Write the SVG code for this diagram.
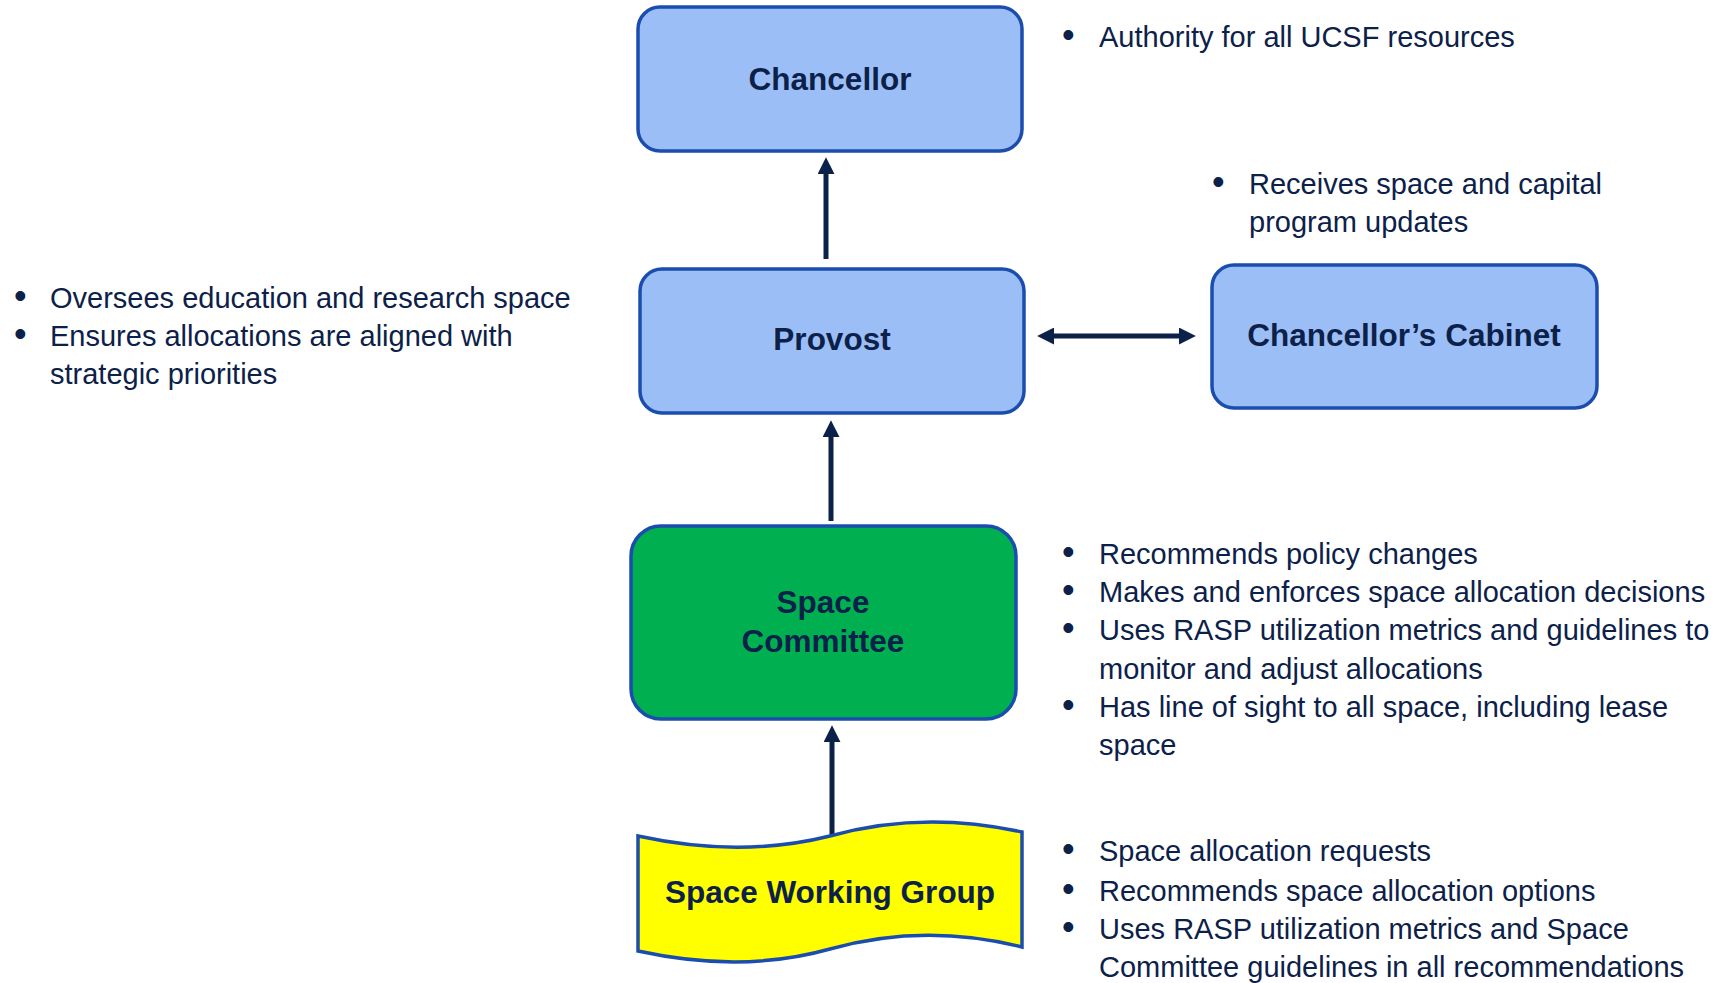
<svg xmlns="http://www.w3.org/2000/svg" width="1716" height="983" viewBox="0 0 1716 983">
<style>
.box{fill:#9CBEF6;stroke:#1A4DAE;stroke-width:3.5}
.green{fill:#00B050;stroke:#1A4DAE;stroke-width:3.5}
.yellow{fill:#FFFF00;stroke:#1A4DAE;stroke-width:3.5}
.lbl{font-family:"Liberation Sans",Arial,sans-serif;font-weight:bold;font-size:31.5px;fill:#0C2149;text-anchor:middle}
.bul{font-family:"Liberation Sans",Arial,sans-serif;font-size:29px;fill:#0C2149}
.dot{font-size:36px}
.conn{stroke:#0C2149;stroke-width:5;fill:none}
</style>
<defs>
<marker id="ah" viewBox="0 0 16 16" markerWidth="17" markerHeight="17" markerUnits="userSpaceOnUse" refX="2" refY="8" orient="auto-start-reverse">
<path d="M0,0 L16,8 L0,16 z" fill="#0C2149"/>
</marker>
</defs>
<rect width="1716" height="983" fill="#ffffff"/>
<g id="connectors">
<line class="conn" x1="826" y1="259" x2="826" y2="172" marker-end="url(#ah)"/>
<line class="conn" x1="831" y1="521" x2="831" y2="435" marker-end="url(#ah)"/>
<line class="conn" x1="832" y1="836" x2="832" y2="740" marker-end="url(#ah)"/>
<line class="conn" x1="1052" y1="336" x2="1181" y2="336" marker-start="url(#ah)" marker-end="url(#ah)"/>
</g>
<g id="chancellor">
<rect class="box" x="638" y="7" width="384" height="144" rx="22"/>
<text class="lbl" x="830" y="90">Chancellor</text>
</g>
<g id="provost">
<rect class="box" x="640" y="269" width="384" height="144" rx="22"/>
<text class="lbl" x="832" y="350">Provost</text>
</g>
<g id="cabinet">
<rect class="box" x="1212" y="265" width="385" height="143" rx="22"/>
<text class="lbl" x="1404" y="346">Chancellor’s Cabinet</text>
</g>
<g id="space-committee">
<rect class="green" x="631" y="526" width="385" height="193" rx="30"/>
<text class="lbl" x="823" y="613">Space</text>
<text class="lbl" x="823" y="652">Committee</text>
</g>
<g id="space-working-group">
<path class="yellow" d="M638,836 C702,850 766,852 830,836 C894,818 958,818 1022,832 L1022,947 C958,931 894,931 830,949 C766,967 702,965 638,951 Z"/>
<text class="lbl" x="830" y="903">Space Working Group</text>
</g>
<g id="notes-chancellor">
<text class="bul" y="47"><tspan class="dot" x="1062">•</tspan><tspan x="1099">Authority for all UCSF resources</tspan></text>
</g>
<g id="notes-cabinet">
<text class="bul" y="194"><tspan class="dot" x="1212">•</tspan><tspan x="1249">Receives space and capital</tspan></text>
<text class="bul" y="232"><tspan x="1249">program updates</tspan></text>
</g>
<g id="notes-provost">
<text class="bul" y="308"><tspan class="dot" x="14">•</tspan><tspan x="50">Oversees education and research space</tspan></text>
<text class="bul" y="346"><tspan class="dot" x="14">•</tspan><tspan x="50">Ensures allocations are aligned with</tspan></text>
<text class="bul" y="384"><tspan x="50">strategic priorities</tspan></text>
</g>
<g id="notes-committee">
<text class="bul" y="564"><tspan class="dot" x="1062">•</tspan><tspan x="1099">Recommends policy changes</tspan></text>
<text class="bul" y="602"><tspan class="dot" x="1062">•</tspan><tspan x="1099">Makes and enforces space allocation decisions</tspan></text>
<text class="bul" y="640"><tspan class="dot" x="1062">•</tspan><tspan x="1099">Uses RASP utilization metrics and guidelines to</tspan></text>
<text class="bul" y="679"><tspan x="1099">monitor and adjust allocations</tspan></text>
<text class="bul" y="717"><tspan class="dot" x="1062">•</tspan><tspan x="1099">Has line of sight to all space, including lease</tspan></text>
<text class="bul" y="755"><tspan x="1099">space</tspan></text>
</g>
<g id="notes-working-group">
<text class="bul" y="861"><tspan class="dot" x="1062">•</tspan><tspan x="1099">Space allocation requests</tspan></text>
<text class="bul" y="901"><tspan class="dot" x="1062">•</tspan><tspan x="1099">Recommends space allocation options</tspan></text>
<text class="bul" y="939"><tspan class="dot" x="1062">•</tspan><tspan x="1099">Uses RASP utilization metrics and Space</tspan></text>
<text class="bul" y="977"><tspan x="1099">Committee guidelines in all recommendations</tspan></text>
</g>
</svg>
